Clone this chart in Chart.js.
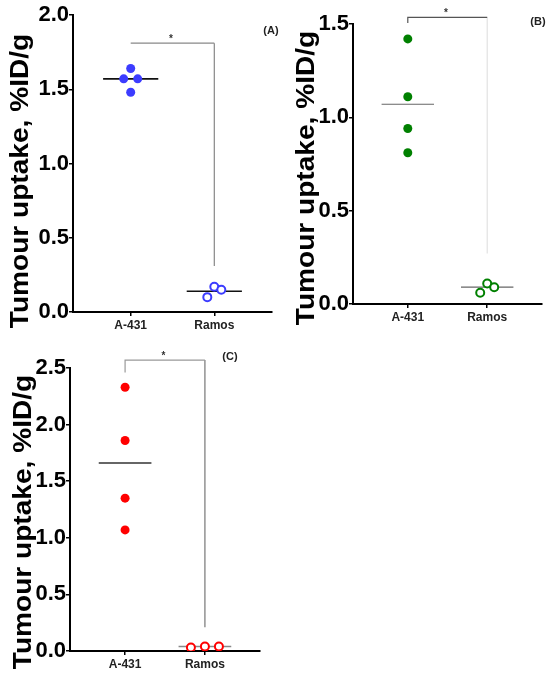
<!DOCTYPE html>
<html>
<head>
<meta charset="utf-8">
<script src="https://cdn.jsdelivr.net/npm/chart.js@4.4.0/dist/chart.umd.min.js"></script>
<style>
body { margin: 0; background: #fff; }
#wrap { position: relative; width: 550px; height: 673px; }
canvas { position: absolute; }
</style>
</head>
<body>
<div id="wrap">
  <canvas id="chartA" width="280" height="340" style="left:0;top:0"></canvas>
  <canvas id="chartB" width="270" height="340" style="left:280px;top:0"></canvas>
  <canvas id="chartC" width="280" height="333" style="left:0;top:340px"></canvas>
</div>
<script>
var categories = ["A-431", "Ramos"];
var yTitle = "Tumour uptake, %ID/g";

// panel A
var a431A = [1.64, 1.57, 1.57, 1.48];
var ramosA = [0.17, 0.10, 0.15];
var meanA = [1.57, 0.14];
var ticksA = [0, 0.5, 1.0, 1.5, 2.0];
var bracketA = [1.81, 1.81, 0.31];

// panel B
var a431B = [1.42, 1.11, 0.94, 0.81];
var ramosB = [0.11, 0.06, 0.09];
var meanB = [1.07, 0.09];
var ticksB = [0, 0.5, 1.0, 1.5];
var bracketB = [1.505, 1.536, 0.27];

// panel C
var a431C = [2.33, 1.86, 1.35, 1.07];
var ramosC = [0.03, 0.04, 0.04];
var meanC = [1.66, 0.04];
var ticksC = [0, 0.5, 1.0, 1.5, 2.0, 2.5];
var bracketC = [2.46, 2.57, 0.21];

var FONT = '"Liberation Sans", Arial, sans-serif';
Chart.defaults.font.family = FONT;

var annot = {
  id: 'annot',
  afterDraw: function(chart, args, o) {
    var c = chart.ctx, xs = chart.scales.x, ys = chart.scales.y;
    c.save();
    c.fillStyle = '#000';
    c.font = 'bold 26px ' + FONT;
    c.translate(o.titleX, o.titleY);
    c.rotate(-Math.PI / 2);
    c.scale(1.08, 1);
    c.textAlign = 'center';
    c.textBaseline = 'alphabetic';
    c.fillText(yTitle, 0, 0);
    c.restore();

    c.save();
    c.font = 'bold 10px ' + FONT;
    c.fillStyle = '#333';
    c.textAlign = 'center';
    c.textBaseline = 'alphabetic';
    c.fillText('*', xs.getPixelForValue(1.48), ys.getPixelForValue(o.bar) - 1);
    c.font = 'bold 11px ' + FONT;
    c.fillStyle = '#222';
    c.textBaseline = 'middle';
    c.fillText(o.label, o.labelX, o.labelY);
    c.restore();
  }
};

function lineSet(pts, color, width) {
  return {
    data: pts, showLine: true, pointRadius: 0, borderColor: color,
    borderWidth: width, fill: false, clip: false, order: 1
  };
}

// spread points of similar value sideways, like a column scatter
function swarm(chart, dsIndex, center) {
  var ys = chart.scales.y, xs = chart.scales.x;
  var unit = xs.getPixelForValue(2) - xs.getPixelForValue(1);
  var pts = chart.data.datasets[dsIndex].data;
  var idx = pts.map(function(p, i) { return i; }).sort(function(a, b) { return pts[a].y - pts[b].y; });
  var rows = [], cur = null;
  idx.forEach(function(i) {
    var py = ys.getPixelForValue(pts[i].y);
    if (cur && Math.abs(py - cur.py) < 9) cur.items.push(i);
    else { cur = { py: py, items: [i] }; rows.push(cur); }
  });
  rows.forEach(function(r) {
    r.items.forEach(function(i, k) {
      pts[i].x = center + (k - (r.items.length - 1) / 2) * 14 / unit;
    });
  });
}

function makePanel(id, o) {
  var b = o.bracket;
  var datasets = [
    { data: o.a431.map(function(v) { return { x: 1, y: v }; }),
      backgroundColor: o.color, borderWidth: 0, pointRadius: 4.5, order: 0 },
    { data: o.ramos.map(function(v) { return { x: 2, y: v }; }),
      backgroundColor: '#fff', borderColor: o.color, borderWidth: 2, pointRadius: 4, order: 0 },
    lineSet([{ x: 0.67, y: o.mean[0] }, { x: 1.33, y: o.mean[0] }], o.meanColor[0], o.meanWidth),
    lineSet([{ x: 1.67, y: o.mean[1] }, { x: 2.33, y: o.mean[1] }], o.meanColor[1], o.meanWidth),
    lineSet([{ x: 1, y: b[0] }, { x: 1, y: b[1] }, { x: 2, y: b[1] }], o.barColor, 1.2),
    lineSet([{ x: 2, y: b[1] }, { x: 2, y: b[2] }], o.legColor, 1.2)
  ];
  var chart = new Chart(document.getElementById(id), {
    type: 'scatter',
    data: { datasets: datasets },
    plugins: [annot],
    options: {
      responsive: false,
      animation: false,
      events: [],
      layout: { padding: { top: o.top, right: o.right, bottom: 0, left: 0 } },
      plugins: {
        legend: { display: false },
        tooltip: { enabled: false },
        annot: { titleX: o.titleX, titleY: o.titleY, bar: b[1], label: o.label, labelX: o.labelX, labelY: o.labelY }
      },
      scales: {
        x: {
          type: 'linear', min: 0.31, max: 2.69,
          afterBuildTicks: function(s) { s.ticks = [{ value: 1 }, { value: 2 }]; },
          afterFit: function(s) { s.height = o.xh; },
          ticks: {
            callback: function(v) { return categories[Math.round(v) - 1]; },
            font: { weight: 'bold', size: 12 }, color: '#222', padding: 2,
            maxRotation: 0, autoSkip: false
          },
          grid: { drawOnChartArea: false, tickLength: 4, color: '#000', lineWidth: 1.5 },
          border: { color: '#000', width: 2 }
        },
        y: {
          min: 0, max: o.ticks[o.ticks.length - 1],
          afterBuildTicks: function(s) { s.ticks = o.ticks.map(function(v) { return { value: v }; }); },
          afterFit: function(s) { s.width = o.yw; },
          ticks: {
            callback: function(v) { return v.toFixed(1); },
            font: { weight: 'bold', size: 22 }, color: '#000', padding: 0
          },
          grid: { drawOnChartArea: false, tickLength: 4, color: '#000', lineWidth: 1.5 },
          border: { color: '#000', width: 2 }
        }
      }
    }
  });
  swarm(chart, 0, 1);
  swarm(chart, 1, 2);
  chart.update('none');
  return chart;
}

makePanel('chartA', {
  a431: a431A, ramos: ramosA, mean: meanA, ticks: ticksA, bracket: bracketA,
  color: 'rgb(60,60,255)', meanColor: ['#111', '#111'], meanWidth: 1.6,
  barColor: '#888', legColor: '#888',
  top: 15, right: 8, yw: 73, xh: 28,
  titleX: 28, titleY: 181, label: '(A)', labelX: 271, labelY: 31
});

makePanel('chartB', {
  a431: a431B, ramos: ramosB, mean: meanB, ticks: ticksB, bracket: bracketB,
  color: 'rgb(0,128,0)', meanColor: ['#666', '#666'], meanWidth: 1.2,
  barColor: '#555', legColor: '#e2e2e2',
  top: 24, right: 8, yw: 73, xh: 36,
  titleX: 34, titleY: 178, label: '(B)', labelX: 258, labelY: 22
});

makePanel('chartC', {
  a431: a431C, ramos: ramosC, mean: meanC, ticks: ticksC, bracket: bracketC,
  color: 'rgb(255,0,0)', meanColor: ['#333', '#888'], meanWidth: 1.5,
  barColor: '#999', legColor: '#777',
  top: 28, right: 20, yw: 70, xh: 22,
  titleX: 31, titleY: 182, label: '(C)', labelX: 230, labelY: 17
});
</script>
</body>
</html>
